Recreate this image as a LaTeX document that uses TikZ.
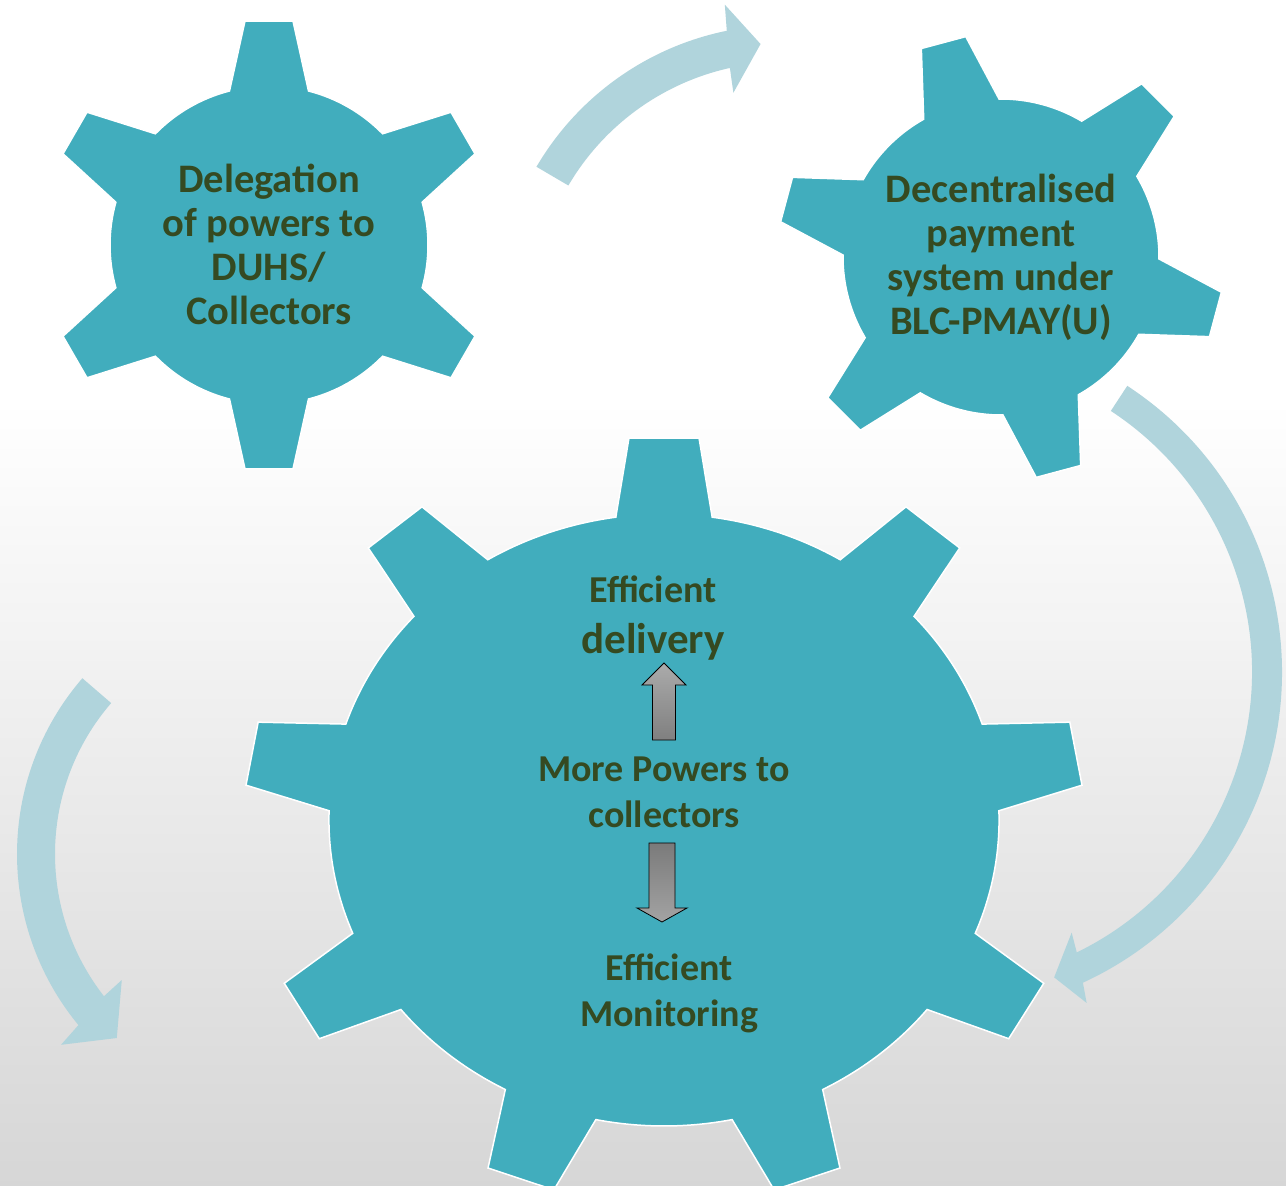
\documentclass[tikz,border=0pt]{standalone}
\usepackage{fontspec}
\setmainfont{Carlito}
\usetikzlibrary{calc}

\definecolor{gearteal}{HTML}{41ADBD}
\definecolor{flowblue}{HTML}{B0D4DC}
\definecolor{labelgreen}{HTML}{354A21}

% #1 centre, #2 teeth, #3 first tooth angle, #4 tip radius, #5 body radius,
% #6 half width at tip, #7 half width at base, #8 xscale
\newcommand{\cog}[8]{%
  \begin{scope}[shift={(#1)}, xscale=#8]
    \pgfmathsetmacro{\cogstep}{360/#2}
    \pgfmathsetmacro{\cogbase}{asin(#7/#5)}
    \pgfmathsetmacro{\cogtip}{atan(#6/#4)}
    \pgfmathsetmacro{\cogtipr}{#4/cos(\cogtip)}
    \pgfmathtruncatemacro{\coglast}{#2-1}
    \path[gear] ({#3-\cogbase}:#5)
      \foreach \k in {0,...,\coglast} {
        -- ({#3+\k*\cogstep-\cogbase}:#5)
        -- ({#3+\k*\cogstep-\cogtip}:\cogtipr)
        -- ({#3+\k*\cogstep+\cogtip}:\cogtipr)
        -- ({#3+\k*\cogstep+\cogbase}:#5)
        arc[start angle={#3+\k*\cogstep+\cogbase},
            end angle={#3+(\k+1)*\cogstep-\cogbase}, radius=#5]
      } -- cycle;
  \end{scope}}

\begin{document}
\begin{tikzpicture}
  [x=1pt, y=1pt,
   gear/.style = {fill=gearteal, draw=white, line width=1.5pt},
   flow/.style = {fill=flowblue},
   geartext/.style = {text=labelgreen, align=center,
     font=\fontsize{40.5}{44}\selectfont\bfseries},
   midtext/.style = {geartext, font=\fontsize{38}{46}\selectfont\bfseries},
   blockarrow/.style = {draw=black, line width=0.8pt}
  ]
  \useasboundingbox (0,0) rectangle (1286,-1186);
  \clip (0,0) rectangle (1286,-1186);

  % background
  \fill[white] (0,0) rectangle (1286,-1186);
  \shade[top color=white, bottom color=black!16] (0,-400) rectangle (1286,-1186);

  % curved arrows
  \begin{scope}[shift={(784,-312)}]
    \path[flow] (149.6:287) arc[start angle=149.6, end angle=101.5, radius=287]
      -- (100.9:313) -- (95:269) -- (103:225) -- (102.5:250)
      arc[start angle=102.5, end angle=149.6, radius=250] -- cycle;
  \end{scope}
  \begin{scope}[shift={(940,-672)}]
    \path[flow] (56.8:342) arc[start angle=56.8, end angle=-65.3, radius=342]
      -- (-66.1:362) -- (-69.5:326) -- (-63.2:292) -- (-64:312)
      arc[start angle=-64, end angle=56.8, radius=312] -- cycle;
  \end{scope}
  \begin{scope}[shift={(286,-854)}]
    \path[flow] (139.2:269) arc[start angle=139.2, end angle=219.5, radius=269]
      -- (220.3:295) -- (227.4:250) -- (217.5:207) -- (218:231)
      arc[start angle=218, end angle=139.2, radius=231] -- cycle;
  \end{scope}

  % gears
  \cog{269,-245}{6}{90}{224}{159}{24}{39.5}{1}
  \cog{1001,-257}{6}{105}{222}{158}{23}{39}{1}
  \cog{664,-820}{9}{90}{382}{306}{32}{44}{1.095}

  \node[geartext] (delegation) at (269,-244)
    {Delegation\\of powers to\\DUHS/\\Collectors};
  \node[geartext] (payment) at (1001,-257)
    {Decentralised\\payment\\system under\\BLC-PMAY(U)};

  \node[midtext] (delivery) at (653,-618)
    {Efficient\\[5pt]{\fontsize{43}{48}\selectfont delivery}};
  \node[midtext] (powers) at (664,-792)
    {More Powers to\\collectors};
  \node[midtext] (monitoring) at (669,-993)
    {Efficient\\Monitoring};

  % block arrows
  \coordinate (uptip) at (664,-663);
  \coordinate (downtip) at (662,-922);
  \path[blockarrow, top color=black!33, bottom color=black!50]
    (uptip) -- ++(22,-22) -- ++(-10.5,0) -- ++(0,-55) -- ++(-23,0)
    -- ++(0,55) -- ++(-10.5,0) -- cycle;
  \path[blockarrow, top color=black!52, bottom color=black!36]
    (downtip) -- ++(25,14) -- ++(-12,0) -- ++(0,65) -- ++(-26,0)
    -- ++(0,-65) -- ++(-12,0) -- cycle;
\end{tikzpicture}
\end{document}
